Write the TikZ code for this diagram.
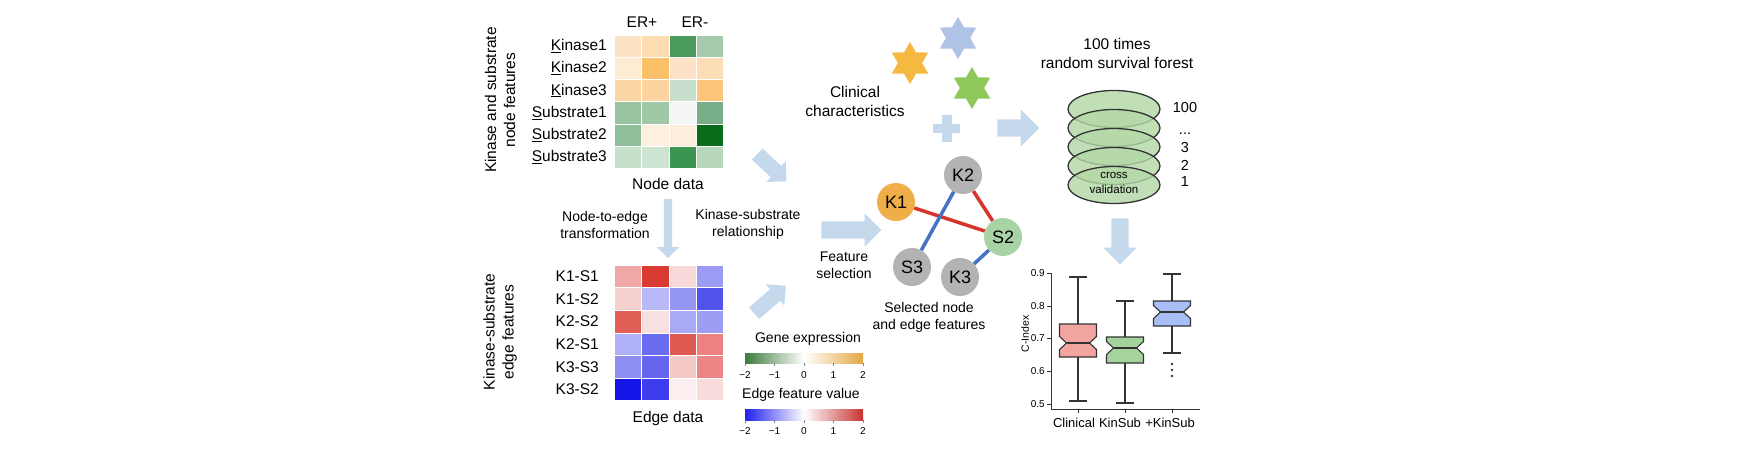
\documentclass[tikz,border=0pt]{standalone}
\usepackage{fontspec}
\setmainfont{Liberation Sans}
\usetikzlibrary{shapes.geometric}
\usetikzlibrary{shapes.arrows}
\definecolor{arrowblue}{HTML}{C5D9ED}
\definecolor{kinorange}{HTML}{F0AE48}
\definecolor{nodegrey}{HTML}{B3B3B3}
\definecolor{subgreen}{HTML}{A8D3A5}
\definecolor{edgered}{HTML}{D8342C}
\definecolor{edgeblue}{HTML}{4672C4}
\definecolor{gegreen}{HTML}{3C7A3A}
\definecolor{georange}{HTML}{E3A844}
\definecolor{efblue}{HTML}{2020EE}
\definecolor{efred}{HTML}{C83232}
\definecolor{stargold}{HTML}{F5B942}
\definecolor{starblue}{HTML}{AEC3E6}
\definecolor{stargreen}{HTML}{8FC85A}
\definecolor{forestgreen}{HTML}{B2D8A6}
\definecolor{boxline}{HTML}{333333}
\definecolor{boxred}{HTML}{F2A5A0}
\definecolor{boxgreen}{HTML}{A4D49C}
\definecolor{boxblue}{HTML}{A7BFF6}
\tikzset{lbl/.style = {font=\fontsize{15.5}{19}\selectfont, inner sep=0, align=center}}
\tikzset{sml/.style = {font=\fontsize{14}{17}\selectfont, inner sep=0, align=center}}
\tikzset{ticklbl/.style = {font=\fontsize{10}{12}\selectfont, inner sep=0}}
\tikzset{knode/.style = {circle, minimum size=38pt, inner sep=0, font=\fontsize{18}{18}\selectfont}}
\tikzset{fatarrow/.style 2 args = {single arrow, fill=arrowblue, inner xsep=0pt,
                                   inner ysep=#1, single arrow head extend=#2}}
\tikzset{layer/.style = {ellipse, minimum width=92pt, minimum height=37pt, fill=forestgreen,
                         fill opacity=0.8, draw=boxline, line width=1.3pt}}
\tikzset{sixstar/.style = {star, star points=6, star point ratio=1.73, minimum size=42pt, inner sep=0}}
\newcommand{\notchbox}[7]{%
  \draw [boxline, line width=1.1pt] (#1-9,#2) -- (#1+9,#2) (#1,#2) -- (#1,#3)
        (#1,#5) -- (#1,#6) (#1-9,#6) -- (#1+9,#6);
  \filldraw [boxline, line width=1.1pt, fill=#7] (#1-18.5,#3) -- (#1+18.5,#3) -- (#1+18.5,#4-6.5)
        -- (#1+11.5,#4) -- (#1+18.5,#4+6.5) -- (#1+18.5,#5) -- (#1-18.5,#5) -- (#1-18.5,#4+6.5)
        -- (#1-11.5,#4) -- (#1-18.5,#4-6.5) -- cycle;
  \draw [boxline, line width=1.8pt] (#1-11.5,#4) -- (#1+11.5,#4);}

\begin{document}
\begin{tikzpicture}[x=1pt, y=-1pt]
    \useasboundingbox (0,0) rectangle (1746,448);
    \fill [white] (0,0) rectangle (1746,448);

    % node data
    \node [lbl, rotate=90] (nodefeat) at (500,100) {Kinase and substrate\\node features};
    \node [lbl] (erpos) at (642,22) {ER+};
    \node [lbl] (erneg) at (695,22) {ER-};
    \foreach \r/\row in {0/{FCE3C3,FCDCB0,4A9A5E,A6CBAC}, 1/{FDEBD4,FBC068,FCE3C6,FCDDB6},
                         2/{FBD6A5,FBD4A0,C7DFCC,FBC679}, 3/{97C39F,A0C8A7,F3F6F3,78AF88},
                         4/{8FBF99,FEF0E0,FDEEDC,0A6B1B}, 5/{C5E0CB,CDE4D2,3A9550,B8D8BE}} {
      \foreach \cc [count=\c from 0] in \row {
        \definecolor{cellc}{HTML}{\cc}
        \filldraw [fill=cellc, draw=white, line width=0.6pt] (614+27.4*\c,35+22.2*\r) rectangle +(27.4,22.2);
      }
    }
    \foreach \a/\b [count=\i] in {K/inase1, K/inase2, K/inase3, S/ubstrate1, S/ubstrate2, S/ubstrate3}
      \node [lbl, anchor=east] (nrow\i) at (607,35+22.2*\i-11.1) {\underline{\a}\b};
    \node [lbl] (nodedata) at (668,184) {Node data};

    % edge data
    \node [fatarrow={4pt}{7pt}, minimum height=59pt, rotate=-90] (todown) at (668,226.5) {};
    \node [sml] (n2e) at (605,224.5) {Node-to-edge\\transformation};
    \node [lbl, rotate=90] (edgefeat) at (500,332) {Kinase-substrate\\edge features};
    \foreach \r/\row in {0/{F2A7A7,D93B33,F8D8D8,9C9CF5}, 1/{F6CFCF,B9B9F8,9595F3,5252EC},
                         2/{E15F57,F9E1E1,A9A9F5,9D9DF4}, 3/{B1B1F7,6B6BEF,E05A54,EC8181},
                         4/{8D8DF2,6565ED,F6C9C9,EC8585}, 5/{1515E8,3D3DEE,FCEEEE,F8DBDB}} {
      \foreach \cc [count=\c from 0] in \row {
        \definecolor{cellc}{HTML}{\cc}
        \filldraw [fill=cellc, draw=white, line width=0.6pt] (614+27.4*\c,265+22.6*\r) rectangle +(27.4,22.6);
      }
    }
    \foreach \e [count=\i] in {K1-S1, K1-S2, K2-S2, K2-S1, K3-S3, K3-S2}
      \node [lbl, anchor=east] (erow\i) at (599,265+22.6*\i-11.3) {\e};
    \node [lbl] (edgedata) at (668,418) {Edge data};

    % legends
    \node [sml] (gelabel) at (808,339) {Gene expression};
    \shade [left color=gegreen, right color=georange, middle color=white] (745,353) rectangle (863,363);
    \node [sml] (eflabel) at (801,395) {Edge feature value};
    \shade [left color=efblue, right color=efred, middle color=white] (745,409) rectangle (863,420);
    \foreach \t [count=\k from 0] in {−2,−1,0,1,2} {
      \draw [gray, line width=0.6pt] (745+29.5*\k,363) -- (745+29.5*\k,366);
      \draw [gray, line width=0.6pt] (745+29.5*\k,420) -- (745+29.5*\k,423);
      \node [ticklbl] (get\k) at (745+29.5*\k,375) {\t};
      \node [ticklbl] (eft\k) at (745+29.5*\k,431) {\t};
    }

    % feature selection
    \node [fatarrow={7.5pt}{6.5pt}, minimum height=40pt, rotate=-43] (diagdown) at (769,165) {};
    \node [fatarrow={7.5pt}{6.5pt}, minimum height=42pt, rotate=41] (diagup) at (767,302) {};
    \node [sml] (ksrel) at (748,224) {Kinase-substrate\\relationship};
    \node [fatarrow={8.5pt}{8pt}, minimum height=60pt] (tonet) at (847,230) {};
    \node [sml] (featsel) at (844,265.5) {Feature\\selection};

    \node [knode, fill=nodegrey] (k2) at (963,175) {K2};
    \node [knode, fill=kinorange] (k1) at (896,202) {K1};
    \node [knode, fill=subgreen] (s2) at (1003,237) {S2};
    \node [knode, fill=nodegrey] (s3) at (912,267) {S3};
    \node [knode, fill=nodegrey] (k3) at (960,277) {K3};
    \draw [edgered, line width=3.5pt] (k1) -- (s2);
    \draw [edgered, line width=3.5pt] (k2) -- (s2);
    \draw [edgeblue, line width=3.5pt] (k2) -- (s3);
    \draw [edgeblue, line width=3.5pt] (s2) -- (k3);
    \node [sml] (selected) at (929,317) {Selected node\\and edge features};

    % clinical
    \node [sixstar, fill=starblue] (star1) at (958,38) {};
    \node [sixstar, fill=stargold] (star2) at (910,63) {};
    \node [sixstar, fill=stargreen] (star3) at (972,88) {};
    \node [lbl] (clinical) at (855,101) {Clinical\\characteristics};
    \fill [arrowblue] (933,124) rectangle (960,133);
    \fill [arrowblue] (941.5,115) rectangle (951.5,142);
    \node [fatarrow={8.5pt}{10pt}, minimum height=42pt] (toforest) at (1014,128) {};

    % survival forest
    \node [lbl] (rsf) at (1117,53) {100 times\\random survival forest};
    \node [layer] (f5) at (1114,109) {};
    \node [layer] (f4) at (1114,128) {};
    \node [layer] (f3) at (1114,147) {};
    \node [layer] (f2) at (1114,166) {};
    \node [layer] (f1) at (1114,185) {};
    \node [font=\fontsize{11.5}{15}\selectfont, inner sep=0, align=center] (cv) at (1114,183) {cross\\validation};
    \node [sml, font=\fontsize{14.5}{17}\selectfont] (lay100) at (1185,108) {100};
    \node [sml, font=\fontsize{14.5}{17}\selectfont, anchor=base] (laydots) at (1185,134) {...};
    \node [sml, font=\fontsize{14.5}{17}\selectfont] (lay3) at (1185,148) {3};
    \node [sml, font=\fontsize{14.5}{17}\selectfont] (lay2) at (1185,165) {2};
    \node [sml, font=\fontsize{14.5}{17}\selectfont] (lay1) at (1185,182) {1};
    \node [fatarrow={8.5pt}{8pt}, minimum height=46pt, rotate=-90] (tobox) at (1120,237) {};

    % c-index
    \draw [boxline, line width=1pt] (1051,273) -- (1051,409) -- (1200,409);
    \foreach \v/\yy [count=\k] in {0.5/404, 0.6/371, 0.7/338, 0.8/306, 0.9/273} {
      \draw [boxline, line width=1pt] (1047,\yy) -- (1051,\yy);
      \node [ticklbl, anchor=east] (yt\k) at (1045,\yy) {\v};
    }
    \foreach \xx in {1078, 1125, 1172}
      \draw [boxline, line width=1pt] (\xx,409) -- (\xx,413);
    \node [ticklbl, font=\fontsize{10.5}{12}\selectfont, rotate=90] (cindex) at (1025,334) {C-Index};
    \notchbox{1078}{277}{324}{343}{357}{401}{boxred}
    \notchbox{1125}{301}{337}{348}{363}{403}{boxgreen}
    \notchbox{1172}{274}{301}{312}{326}{353}{boxblue}
    \fill [boxline] (1172,364) circle (1.4pt) (1172,370) circle (1.4pt) (1172,376) circle (1.4pt);
    \node [sml, font=\fontsize{13}{16}\selectfont] (xclin) at (1074,423) {Clinical};
    \node [sml, font=\fontsize{13}{16}\selectfont] (xkin) at (1120,423) {KinSub};
    \node [sml, font=\fontsize{13}{16}\selectfont] (xplus) at (1170,423) {+KinSub};
\end{tikzpicture}
\end{document}
